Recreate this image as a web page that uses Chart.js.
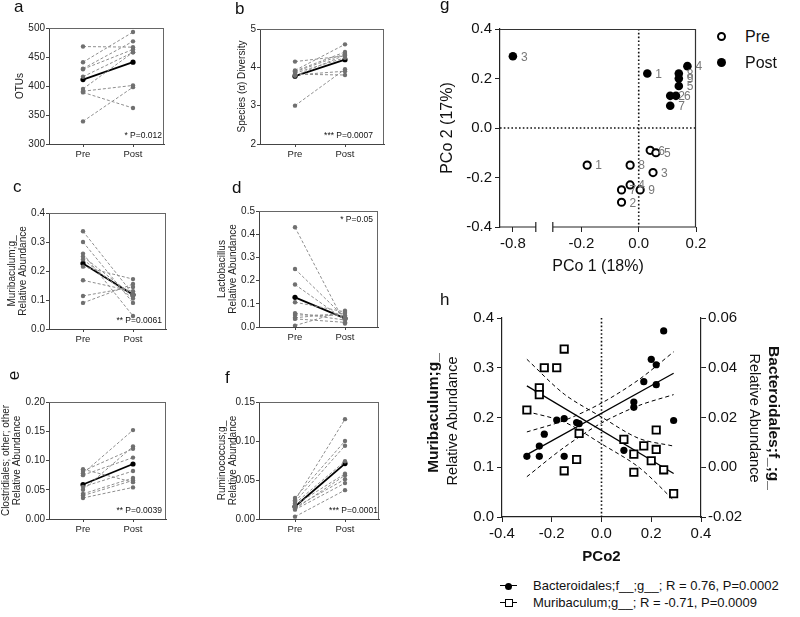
<!DOCTYPE html>
<html>
<head>
<meta charset="utf-8">
<script src="https://cdn.jsdelivr.net/npm/chart.js@4.4.1/dist/chart.umd.min.js"></script>
<style>
body { margin: 0; background: #fff; width: 800px; height: 617px; position: relative; overflow: hidden;
       font-family: "Liberation Sans", Arial, Helvetica, sans-serif; color: #111; }
canvas { position: absolute; }
.tag { position: absolute; font-size: 17px; line-height: 17px; }
.rot { position: absolute; white-space: nowrap; transform: translate(-50%, -50%) rotate(-90deg); }
.rotR { position: absolute; white-space: nowrap; transform: translate(-50%, -50%) rotate(90deg); }
.gleg { position: absolute; font-size: 16px; line-height: 16px; }
.gleg i { position: absolute; left: -28px; top: 3px; width: 9px; height: 9px; border-radius: 50%; box-sizing: border-box; }
.hleg { position: absolute; left: 533px; font-size: 13px; line-height: 13px; white-space: nowrap; }
.hleg b { position: absolute; left: -33px; top: 6px; width: 17px; height: 0; border-top: 1.3px solid #000; }
.hleg em { position: absolute; box-sizing: border-box; }
</style>
</head>
<body>
<canvas id="cA" width="180" height="165" style="left:0;top:0"></canvas>
<canvas id="cB" width="205" height="165" style="left:190px;top:0"></canvas>
<canvas id="cC" width="180" height="180" style="left:0;top:170px"></canvas>
<canvas id="cD" width="205" height="180" style="left:190px;top:170px"></canvas>
<canvas id="cE" width="180" height="180" style="left:0;top:360px"></canvas>
<canvas id="cF" width="205" height="180" style="left:190px;top:360px"></canvas>
<canvas id="cG" width="320" height="290" style="left:400px;top:0"></canvas>
<canvas id="cH" width="400" height="270" style="left:400px;top:300px"></canvas>

<div class="tag" style="left:14px;top:-2px">a</div>
<div class="tag" style="left:235px;top:0px">b</div>
<div class="tag" style="left:13px;top:178px">c</div>
<div class="tag" style="left:232px;top:179px">d</div>
<div class="tag" style="left:9px;top:367px;transform:rotate(-90deg)">e</div>
<div class="tag" style="left:225px;top:369px">f</div>
<div class="tag" style="left:440px;top:-4px">g</div>
<div class="tag" style="left:440px;top:291px">h</div>

<div class="gleg" style="left:745px;top:29px"><i style="border:2px solid #000;background:#fff"></i>Pre</div>
<div class="gleg" style="left:745px;top:55px"><i style="background:#000"></i>Post</div>

<div class="rot" style="left:433px;top:413px;font-weight:bold;font-size:15.5px">Muribaculum;g_</div>
<div class="rot" style="left:452px;top:421px;font-size:14.5px">Relative Abundance</div>
<div class="rotR" style="left:774px;top:418px;font-weight:bold;font-size:15.5px">Bacteroidales;f_;g_</div>
<div class="rotR" style="left:755px;top:418px;font-size:14.5px">Relative Abundance</div>

<div class="hleg" style="top:579px"><b></b><em style="left:-28px;top:4px;width:7px;height:7px;border-radius:50%;background:#000"></em>Bacteroidales;f__;g__; R = 0.76, P=0.0002</div>
<div class="hleg" style="top:596px"><b></b><em style="left:-28.5px;top:3px;width:8px;height:8px;border:1.5px solid #000;background:#fff"></em>Muribaculum;g__; R = -0.71, P=0.0009</div>

<script>
// ---- paired panels (pre -> post per mouse, plus mean) ----
const otuPre = [468, 441, 430, 429, 416, 395, 391, 389, 339];
const otuPost = [467, 493, 477, 463, 458, 458, 401, 362, 398];
const otuMean = [411, 441];

const divPre = [4.15, 3.92, 3.9, 3.88, 3.85, 3.82, 3.8, 3.78, 3.0];
const divPost = [4.3, 4.6, 4.4, 4.35, 4.25, 3.8, 3.9, 4.32, 3.95];
const divMean = [3.77, 4.2];

const muriPre = [0.337, 0.30, 0.26, 0.25, 0.24, 0.215, 0.168, 0.114, 0.09];
const muriPost = [0.12, 0.09, 0.045, 0.115, 0.105, 0.172, 0.13, 0.145, 0.155];
const muriMean = [0.226, 0.118];

const lactoPre = [0.43, 0.25, 0.183, 0.107, 0.06, 0.052, 0.04, 0.035, 0.006];
const lactoPost = [0.015, 0.04, 0.03, 0.065, 0.03, 0.05, 0.06, 0.02, 0.07];
const lactoMean = [0.128, 0.037];

const closPre = [0.085, 0.082, 0.078, 0.075, 0.055, 0.05, 0.043, 0.04, 0.036];
const closPost = [0.063, 0.12, 0.152, 0.105, 0.082, 0.124, 0.07, 0.066, 0.054];
const closMean = [0.059, 0.094];

const rumiPre = [0.027, 0.024, 0.022, 0.02, 0.018, 0.015, 0.013, 0.012, 0.003];
const rumiPost = [0.1, 0.128, 0.094, 0.074, 0.058, 0.051, 0.056, 0.046, 0.037];
const rumiMean = [0.016, 0.071];

const groups = ['Pre', 'Post'];

// ---- PCoA ----
const pcoPreX = [-0.18, -0.03, 0.05, 0.04, 0.06, -0.03, -0.06, 0.005, -0.06];
const pcoPreY = [-0.15, -0.15, -0.18, -0.09, -0.10, -0.23, -0.25, -0.25, -0.30];
const pcoPreTags = ['1', '8', '3', '6', '5', '4', '7', '9', '2'];
const pcoPostX = [-0.80, 0.03, 0.17, 0.14, 0.14, 0.14, 0.11, 0.13, 0.11];
const pcoPostY = [0.29, 0.22, 0.25, 0.22, 0.20, 0.17, 0.13, 0.13, 0.09];
const pcoPostTags = ['3', '1', '4', '8', '9', '5', '2', '6', '7'];
const pcoXTicks = [-0.8, -0.2, 0, 0.2];
const BREAK_LEFT = [-0.845, -0.72];
const BREAK_RIGHT = [-0.3, 0.2];
const BREAK_GAP = 17;

// ---- correlation with PCo2 ----
const bactX = [-0.30, -0.25, -0.25, -0.23, -0.18, -0.15, -0.15, -0.10, -0.09, 0.09, 0.13, 0.13, 0.17, 0.20, 0.22, 0.22, 0.25, 0.29];
const bactY = [0.0044, 0.0044, 0.0085, 0.0133, 0.019, 0.0196, 0.0044, 0.018, 0.0175, 0.0068, 0.0262, 0.0241, 0.0344, 0.0434, 0.0412, 0.0332, 0.0548, 0.0188];
const muriX = [-0.15, -0.23, -0.18, -0.25, -0.25, -0.30, -0.09, -0.10, -0.15, 0.09, 0.13, 0.13, 0.17, 0.20, 0.22, 0.22, 0.25, 0.29];
const muriY = [0.3375, 0.300, 0.300, 0.2595, 0.246, 0.215, 0.168, 0.1156, 0.0928, 0.156, 0.1264, 0.090, 0.143, 0.113, 0.1748, 0.1358, 0.0948, 0.047];
const fitEnds = [-0.30, 0.29];
const bandX = [-0.30, -0.15, 0, 0.15, 0.29];
const bactFit = [0.0051, 0.0378];
const bactUpper = [0.0142, 0.0188, 0.0258, 0.0352, 0.0464];
const bactLower = [-0.0038, 0.008, 0.0178, 0.0248, 0.0292];
const muriFit = [0.2635, 0.0874];
const muriUpper = [0.317, 0.247, 0.201, 0.158, 0.1425];
const muriLower = [0.212, 0.191, 0.147, 0.100, 0.034];

const FONT = '"Liberation Sans", Arial, Helvetica, sans-serif';
Chart.defaults.font.family = FONT;
Chart.defaults.color = '#111';
Chart.defaults.animation = false;
Chart.defaults.events = [];
Chart.defaults.responsive = false;
Chart.defaults.plugins.legend.display = false;
Chart.defaults.plugins.tooltip.enabled = false;

// x axis with a gap between two value ranges
class BrokenScale extends Chart.LinearScale {
  unit() {
    return (this.right - this.left - BREAK_GAP) / ((BREAK_LEFT[1] - BREAK_LEFT[0]) + (BREAK_RIGHT[1] - BREAK_RIGHT[0]));
  }
  getPixelForValue(v) {
    const u = this.unit();
    if (v <= BREAK_LEFT[1]) return this.left + (v - BREAK_LEFT[0]) * u;
    return this.right - (BREAK_RIGHT[1] - v) * u;
  }
  getValueForPixel(p) {
    const u = this.unit();
    const p1 = this.left + (BREAK_LEFT[1] - BREAK_LEFT[0]) * u;
    if (p <= p1) return BREAK_LEFT[0] + (p - this.left) / u;
    return BREAK_RIGHT[1] - (this.right - p) / u;
  }
}
BrokenScale.id = 'broken';
BrokenScale.defaults = Chart.LinearScale.defaults;
Chart.register(BrokenScale);

const boxFrame = {
  id: 'boxFrame',
  afterDatasetsDraw(chart, args, opts) {
    if (!opts.sides) return;
    const { ctx, chartArea: a } = chart;
    ctx.save();
    ctx.strokeStyle = opts.color || '#555';
    ctx.lineWidth = opts.width || 1;
    ctx.beginPath();
    if (opts.sides.includes('top')) { ctx.moveTo(a.left, a.top + 0.5); ctx.lineTo(a.right, a.top + 0.5); }
    if (opts.sides.includes('right')) { ctx.moveTo(a.right - 0.5, a.top); ctx.lineTo(a.right - 0.5, a.bottom); }
    ctx.stroke();
    ctx.restore();
  }
};

const pText = {
  id: 'pText',
  afterDatasetsDraw(chart, args, opts) {
    if (!opts.text) return;
    const { ctx, chartArea: a } = chart;
    ctx.save();
    ctx.font = '8.5px ' + FONT;
    ctx.fillStyle = '#111';
    ctx.textAlign = 'right';
    ctx.textBaseline = 'middle';
    ctx.fillText(opts.text, a.right - opts.dx, opts.top ? a.top + 9 : a.bottom - 8);
    ctx.restore();
  }
};

const zeroLines = {
  id: 'zeroLines',
  beforeDatasetsDraw(chart, args, opts) {
    if (!opts.x && !opts.y) return;
    const { ctx, chartArea: a, scales } = chart;
    ctx.save();
    ctx.strokeStyle = '#111';
    ctx.lineWidth = 1.6;
    ctx.setLineDash([1.6, 2.2]);
    ctx.beginPath();
    if (opts.x) { const px = scales.x.getPixelForValue(0); ctx.moveTo(px, a.top); ctx.lineTo(px, a.bottom); }
    if (opts.y) { const py = scales.y.getPixelForValue(0); ctx.moveTo(a.left, py); ctx.lineTo(a.right, py); }
    ctx.stroke();
    ctx.restore();
  }
};

const pointTags = {
  id: 'pointTags',
  afterDatasetsDraw(chart) {
    const { ctx } = chart;
    chart.data.datasets.forEach((ds, i) => {
      if (!ds.tags) return;
      ctx.save();
      ctx.font = '12px ' + FONT;
      ctx.fillStyle = '#777';
      ctx.textBaseline = 'middle';
      chart.getDatasetMeta(i).data.forEach((pt, j) => ctx.fillText(ds.tags[j], pt.x + 8, pt.y + 1));
      ctx.restore();
    });
  }
};

const brokenAxis = {
  id: 'brokenAxis',
  afterDraw(chart, args, opts) {
    if (!opts.on) return;
    const { ctx, chartArea: a, scales: { x } } = chart;
    const p1 = x.getPixelForValue(BREAK_LEFT[1]);
    const p2 = x.getPixelForValue(BREAK_RIGHT[0]);
    const y = a.bottom;
    ctx.save();
    ctx.strokeStyle = '#222';
    ctx.lineWidth = 1.2;
    ctx.beginPath();
    ctx.moveTo(a.left, y); ctx.lineTo(p1, y);
    ctx.moveTo(p2, y); ctx.lineTo(a.right, y);
    ctx.moveTo(p1, y - 5); ctx.lineTo(p1, y + 5);
    ctx.moveTo(p2, y - 5); ctx.lineTo(p2, y + 5);
    ctx.stroke();
    ctx.restore();
  }
};

Chart.register(boxFrame, pText, zeroLines, pointTags, brokenAxis);

const xy = (xs, ys) => xs.map((x, i) => ({ x: x, y: ys[i] }));

function pairedChart(id, pre, post, mean, o) {
  const ds = pre.map((v, i) => ({
    data: [{ x: 0, y: v }, { x: 1, y: post[i] }],
    borderColor: '#8e8e8e', borderWidth: 1, borderDash: [3, 2],
    pointRadius: 2.2, pointBorderWidth: 0, pointBackgroundColor: '#707070'
  }));
  ds.push({
    data: [{ x: 0, y: mean[0] }, { x: 1, y: mean[1] }],
    borderColor: '#000', borderWidth: 1.8,
    pointRadius: 2.6, pointBorderWidth: 0, pointBackgroundColor: '#000'
  });
  return new Chart(document.getElementById(id), {
    type: 'line',
    data: { datasets: ds },
    options: {
      layout: { padding: { left: 0, top: o.top, right: o.right, bottom: o.bottom || 0 } },
      plugins: {
        boxFrame: { sides: 'top right', color: '#666' },
        pText: { text: o.p, dx: o.pdx, top: o.ptop }
      },
      scales: {
        x: {
          type: 'linear', min: o.xMin, max: o.xMax,
          afterBuildTicks: s => { s.ticks = [{ value: 0 }, { value: 1 }]; },
          afterFit: s => { s.height = 21; },
          ticks: { callback: v => groups[v], font: { size: 9.5 }, padding: 2, color: '#222', autoSkip: false, maxRotation: 0 },
          grid: { drawOnChartArea: false, tickLength: 3, color: '#444' },
          border: { color: '#444' }
        },
        y: {
          min: o.yMin, max: o.yMax,
          afterFit: s => { s.width = o.yw; },
          ticks: { stepSize: o.step, callback: v => v.toFixed(o.dec), font: { size: 10 }, padding: 1, color: '#222' },
          grid: { drawOnChartArea: false, tickLength: 3, color: '#444' },
          border: { color: '#444' },
          title: { display: true, text: o.title, font: { size: 10, lineHeight: 1.1 }, color: '#222', padding: { top: o.tp, bottom: 0 } }
        }
      }
    }
  });
}

pairedChart('cA', otuPre, otuPost, otuMean, {
  top: 28, right: 16, yw: 49, xMin: -0.68, xMax: 1.62, yMin: 300, yMax: 500, step: 50, dec: 0,
  title: 'OTUs', tp: 14.5, p: '* P=0.012', pdx: 2
});
pairedChart('cB', divPre, divPost, divMean, {
  top: 29, right: 11, yw: 70, xMin: -0.7, xMax: 1.78, yMin: 2, yMax: 5, step: 1, dec: 0,
  title: 'Species (\u03b1) Diversity', tp: 46.5, p: '*** P=0.0007', pdx: 11
});
pairedChart('cC', muriPre, muriPost, muriMean, {
  top: 43, right: 14, yw: 49, xMin: -0.68, xMax: 1.66, yMin: 0, yMax: 0.4, step: 0.1, dec: 1,
  title: ['Muribaculum;g_', 'Relative Abundance'], tp: 6.5, p: '** P=0.0061', pdx: 4
});
pairedChart('cD', lactoPre, lactoPost, lactoMean, {
  top: 41, right: 17, bottom: 2, yw: 69, xMin: -0.72, xMax: 1.66, yMin: 0, yMax: 0.5, step: 0.1, dec: 1,
  title: ['Lactobacillus', 'Relative Abundance'], tp: 26.5, p: '* P=0.05', pdx: 5, ptop: true
});
pairedChart('cE', closPre, closPost, closMean, {
  top: 42, right: 14, yw: 49, xMin: -0.68, xMax: 1.66, yMin: 0, yMax: 0.2, step: 0.05, dec: 2,
  title: ['Clostridiales; other; other', 'Relative Abundance'], tp: 0.5, p: '** P=0.0039', pdx: 4
});
pairedChart('cF', rumiPre, rumiPost, rumiMean, {
  top: 42, right: 16, yw: 69, xMin: -0.72, xMax: 1.68, yMin: 0, yMax: 0.15, step: 0.05, dec: 2,
  title: ['Ruminococcus;g_', 'Relative Abundance'], tp: 26.5, p: '*** P=0.0001', pdx: 1
});

// ---- g: PCoA ----
new Chart(document.getElementById('cG'), {
  type: 'scatter',
  data: {
    datasets: [
      { label: 'Pre', data: xy(pcoPreX, pcoPreY), tags: pcoPreTags,
        pointRadius: 3.6, pointBorderWidth: 2, pointBorderColor: '#000', pointBackgroundColor: '#fff' },
      { label: 'Post', data: xy(pcoPostX, pcoPostY), tags: pcoPostTags,
        pointRadius: 4.3, pointBorderWidth: 0, pointBackgroundColor: '#000' }
    ]
  },
  options: {
    layout: { padding: { left: 0, top: 29, right: 24, bottom: 0 } },
    plugins: {
      zeroLines: { x: true, y: true },
      boxFrame: { sides: 'top right', color: '#333', width: 1.2 },
      brokenAxis: { on: true }
    },
    scales: {
      x: {
        type: 'broken', min: BREAK_LEFT[0], max: BREAK_RIGHT[1],
        afterBuildTicks: s => { s.ticks = pcoXTicks.map(v => ({ value: v })); },
        afterFit: s => { s.height = 63; },
        ticks: { callback: v => v.toFixed(1), font: { size: 15 }, padding: 3, autoSkip: false, maxRotation: 0 },
        grid: { drawOnChartArea: false, tickLength: 5, color: '#222' },
        border: { display: false },
        title: { display: true, text: 'PCo 1 (18%)', font: { size: 16 }, padding: { top: 0, bottom: 14 } }
      },
      y: {
        min: -0.4, max: 0.4,
        afterFit: s => { s.width = 100; },
        ticks: { stepSize: 0.2, callback: v => v.toFixed(1), font: { size: 15 }, padding: 3 },
        grid: { drawOnChartArea: false, tickLength: 5, color: '#222' },
        border: { color: '#222', width: 1.2 },
        title: { display: true, text: 'PCo 2 (17%)', font: { size: 16 }, padding: { top: 38, bottom: 0 } }
      }
    }
  }
});

// ---- h: correlation ----
const fitLine = (xs, ys, axis, dash, tension) => ({
  data: xy(xs, ys), yAxisID: axis, showLine: true, borderColor: '#000',
  borderWidth: dash.length ? 1 : 1.3, borderDash: dash, pointRadius: 0, tension: tension || 0
});

new Chart(document.getElementById('cH'), {
  type: 'scatter',
  data: {
    datasets: [
      { label: 'Bacteroidales;f__;g__', data: xy(bactX, bactY), yAxisID: 'y1',
        pointRadius: 3.6, pointBorderWidth: 0, pointBackgroundColor: '#000' },
      { label: 'Muribaculum;g__', data: xy(muriX, muriY), yAxisID: 'y', pointStyle: 'rect',
        pointRadius: 5.2, pointBorderWidth: 1.8, pointBorderColor: '#000', pointBackgroundColor: '#fff' },
      fitLine(fitEnds, bactFit, 'y1', []),
      fitLine(bandX, bactUpper, 'y1', [4, 3], 0.3),
      fitLine(bandX, bactLower, 'y1', [4, 3], 0.3),
      fitLine(fitEnds, muriFit, 'y', []),
      fitLine(bandX, muriUpper, 'y', [4, 3], 0.3),
      fitLine(bandX, muriLower, 'y', [4, 3], 0.3)
    ]
  },
  options: {
    layout: { padding: { left: 0, top: 18, right: 0, bottom: 0 } },
    plugins: { zeroLines: { x: true } },
    scales: {
      x: {
        min: -0.4, max: 0.4,
        afterFit: s => { s.height = 53; },
        ticks: { stepSize: 0.2, callback: v => v.toFixed(1), font: { size: 15 }, padding: 3, autoSkip: false, maxRotation: 0 },
        grid: { drawOnChartArea: false, tickLength: 5, color: '#222' },
        border: { color: '#222', width: 1.2 },
        title: { display: true, text: 'PCo2', font: { size: 15, weight: 'bold' }, padding: { top: 0, bottom: 4 } }
      },
      y: {
        position: 'left', min: 0, max: 0.4,
        afterFit: s => { s.width = 102; },
        ticks: { stepSize: 0.1, callback: v => v.toFixed(1), font: { size: 15 }, padding: 3 },
        grid: { drawOnChartArea: false, tickLength: 5, color: '#222' },
        border: { color: '#222', width: 1.2 }
      },
      y1: {
        position: 'right', min: -0.02, max: 0.06,
        afterFit: s => { s.width = 99; },
        ticks: { stepSize: 0.02, callback: v => v.toFixed(2), font: { size: 15 }, padding: 2 },
        grid: { drawOnChartArea: false, tickLength: 5, color: '#222' },
        border: { color: '#222', width: 1.2 }
      }
    }
  }
});
</script>
</body>
</html>
